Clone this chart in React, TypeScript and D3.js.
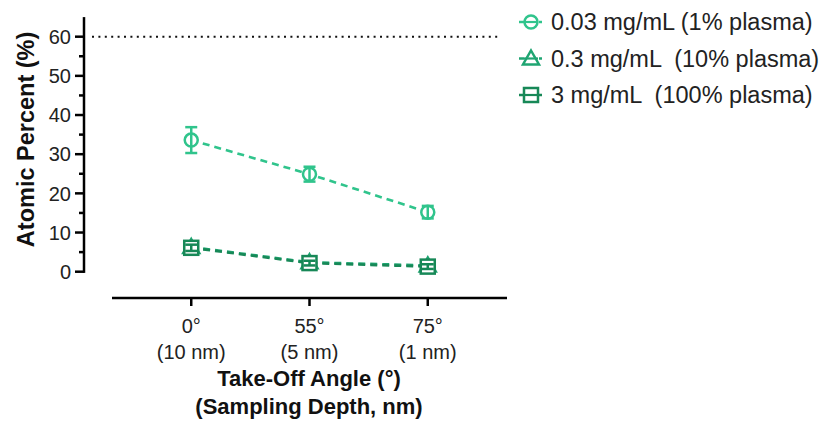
import React from "react";
import * as d3 from "d3";

// Take-off angle categories and their sampling depths
const angles = ["0°", "55°", "75°"];
const depths = ["(10 nm)", "(5 nm)", "(1 nm)"];

// Series labels
const seriesNames = [
  "0.03 mg/mL (1% plasma)",
  "0.3 mg/mL  (10% plasma)",
  "3 mg/mL  (100% plasma)",
];

// Atomic percent means and error (SD) per series
const lowMean = [33.6, 24.9, 15.2];
const lowErr = [3.3, 1.9, 1.6];
const midMean = [6.3, 2.4, 1.6];
const midErr = [0.9, 0.7, 0.7];
const highMean = [6.1, 2.2, 1.3];
const highErr = [0.8, 0.6, 0.6];

const yTicks = [0, 10, 20, 30, 40, 50, 60];
const referenceLevel = 60;

const colors = ["#30c48c", "#1fa572", "#178857"];
const shapes = ["circle", "triangle", "square"] as const;

const FONT = "'Liberation Sans', Arial, Helvetica, sans-serif";

function Marker({ shape, x, y, color, fill }: { shape: string; x: number; y: number; color: string; fill: string }) {
  if (shape === "circle") {
    return <circle cx={x} cy={y} r={6.5} fill={fill} stroke={color} strokeWidth={2.5} />;
  }
  if (shape === "triangle") {
    const s = 8;
    const p = `${x},${y - s} ${x + s},${y + s * 0.75} ${x - s},${y + s * 0.75}`;
    return <polygon points={p} fill={fill} stroke={color} strokeWidth={2.5} strokeLinejoin="miter" />;
  }
  return <rect x={x - 7} y={y - 7} width={14} height={14} fill={fill} stroke={color} strokeWidth={2.5} />;
}

export default function App() {
  const x = d3.scalePoint<string>().domain(angles).range([112, 507]).padding(0.67);
  const y = d3.scaleLinear().domain([0, 65]).range([271.7, 17.1]);

  const series = [
    { mean: lowMean, err: lowErr },
    { mean: midMean, err: midErr },
    { mean: highMean, err: highErr },
  ];

  const line = d3
    .line<number>()
    .x((_, i) => x(angles[i]) as number)
    .y((d) => y(d));

  const minorTicks = d3.range(5, 65, 10);

  return (
    <svg width={835} height={425} style={{ position: "absolute", left: 0, top: 0, background: "#fff" }}>
      {/* Y axis */}
      <g>
        <line x1={84} x2={84} y1={y(65)} y2={y(0) + 1.2} stroke="#000" strokeWidth={2.5} />
        {yTicks.map((t) => (
          <g key={t}>
            <line x1={75} x2={84} y1={y(t)} y2={y(t)} stroke="#000" strokeWidth={2.5} />
            <text x={71} y={y(t)} dy="0.36em" textAnchor="end" fontFamily={FONT} fontSize={20} fill="#222">
              {t}
            </text>
          </g>
        ))}
        {minorTicks.map((t) => (
          <line key={t} x1={79} x2={84} y1={y(t)} y2={y(t)} stroke="#000" strokeWidth={2.5} />
        ))}
        <text
          transform={`translate(34,${(y(0) + y(65)) / 2 - 5}) rotate(-90)`}
          textAnchor="middle"
          fontFamily={FONT}
          fontSize={23.5}
          fontWeight="bold"
          fill="#111"
        >
          Atomic Percent (%)
        </text>
      </g>

      {/* X axis */}
      <g>
        <line x1={112} x2={507} y1={298} y2={298} stroke="#000" strokeWidth={2.5} />
        {angles.map((a, i) => (
          <g key={a}>
            <line x1={x(a)} x2={x(a)} y1={298} y2={306} stroke="#000" strokeWidth={2.5} />
            <text x={x(a)} y={333} textAnchor="middle" fontFamily={FONT} fontSize={20} fill="#222">
              {a}
            </text>
            <text x={x(a)} y={359} textAnchor="middle" fontFamily={FONT} fontSize={20} fill="#222">
              {depths[i]}
            </text>
          </g>
        ))}
        <text x={309} y={386} textAnchor="middle" fontFamily={FONT} fontSize={22} fontWeight="bold" fill="#111">
          Take-Off Angle (°)
        </text>
        <text x={309} y={414} textAnchor="middle" fontFamily={FONT} fontSize={22} fontWeight="bold" fill="#111">
          (Sampling Depth, nm)
        </text>
      </g>

      {/* Reference level */}
      <line
        x1={92}
        x2={500}
        y1={y(referenceLevel)}
        y2={y(referenceLevel)}
        stroke="#111"
        strokeWidth={2}
        strokeDasharray="2 4.4"
      />

      {/* Series */}
      {series.map((s, si) => (
        <g key={si}>
          <path d={line(s.mean) ?? ""} fill="none" stroke={colors[si]} strokeWidth={2.6} strokeDasharray="7 5" />
          {s.mean.map((m, i) => {
            const cx = x(angles[i]) as number;
            return (
              <g key={i}>
                <Marker shape={shapes[si]} x={cx} y={y(m)} color={colors[si]} fill="#fff" />
                <line x1={cx} x2={cx} y1={y(m + s.err[i])} y2={y(m - s.err[i])} stroke={colors[si]} strokeWidth={2.5} />
                <line x1={cx - 6} x2={cx + 6} y1={y(m + s.err[i])} y2={y(m + s.err[i])} stroke={colors[si]} strokeWidth={2.5} />
                <line x1={cx - 6} x2={cx + 6} y1={y(m - s.err[i])} y2={y(m - s.err[i])} stroke={colors[si]} strokeWidth={2.5} />
              </g>
            );
          })}
        </g>
      ))}

      {/* Legend */}
      {seriesNames.map((name, i) => {
        const ly = 22 + i * 36.5;
        return (
          <g key={name}>
            <line x1={519} x2={524} y1={ly} y2={ly} stroke={colors[i]} strokeWidth={2.5} />
            <line x1={539} x2={542} y1={ly} y2={ly} stroke={colors[i]} strokeWidth={2.5} />
            <Marker shape={shapes[i]} x={531} y={ly} color={colors[i]} fill="none" />
            <line x1={524} x2={538} y1={ly} y2={ly} stroke={colors[i]} strokeWidth={2.2} />
            <text
              x={551}
              y={ly}
              dy="0.36em"
              fontFamily={FONT}
              fontSize={23.5}
              fill="#222"
              style={{ whiteSpace: "pre" }}
            >
              {name}
            </text>
          </g>
        );
      })}
    </svg>
  );
}
